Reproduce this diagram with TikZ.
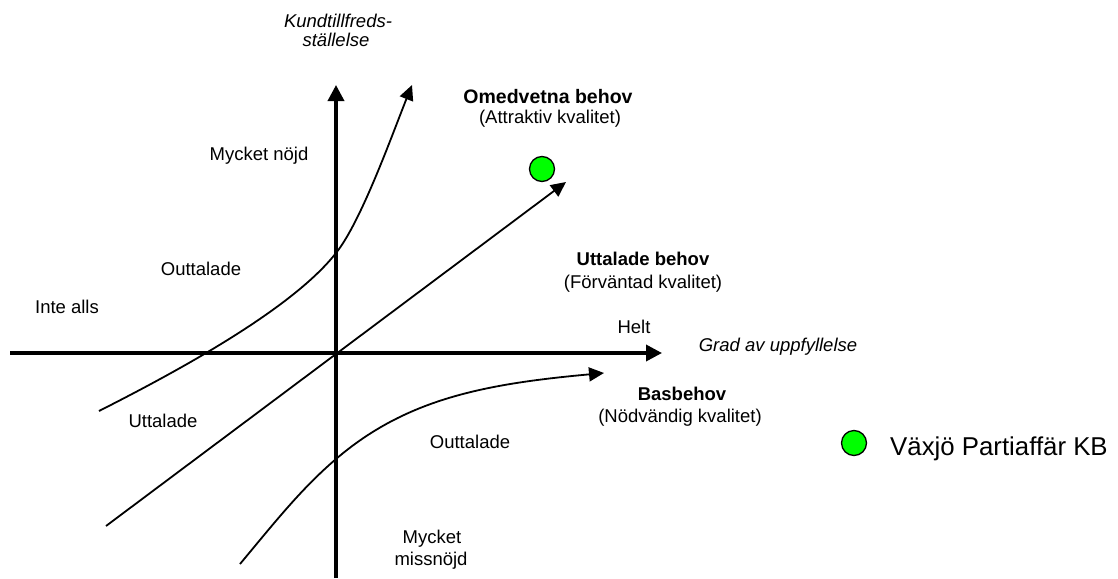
\documentclass[tikz,border=0pt]{standalone}
\usepackage{fontspec}
\setmainfont{Liberation Sans}
\usetikzlibrary{arrows.meta}
\definecolor{dotgreen}{RGB}{0,255,0}
\begin{document}
\begin{tikzpicture}[x=1pt,y=-1pt,
  axis/.style={line width=3.5pt,-{Triangle[length=16pt,width=16pt]}},
  curve/.style={line width=1.8pt,-{Triangle[length=15pt,width=14pt]}},
  lbl/.style={font=\fontsize{18.5}{18.5}\selectfont,inner sep=0pt,anchor=base},
  ilbl/.style={lbl,font=\fontsize{18.5}{18.5}\selectfont\itshape},
  blbl/.style={lbl,font=\fontsize{18.5}{18.5}\selectfont\bfseries},
  dot/.style={circle,draw=black,line width=1.3pt,fill=dotgreen,minimum size=25pt,inner sep=0pt}]
\useasboundingbox (0,0) rectangle (1118,578);

% axes
\coordinate (xs) at (10,353);
\coordinate (xe) at (662,353);
\coordinate (ys) at (336,578);
\coordinate (ye) at (336,85);
\draw[axis] (xs) -- (xe);
\draw[axis] (ys) -- (ye);

% expressed needs: straight line through the origin
\coordinate (d0) at (106,526);
\coordinate (d1) at (566,182);
\draw[curve] (d0) -- (d1);

% unspoken needs curve
\coordinate (u0) at (99,411);
\coordinate (um) at (336,253);
\coordinate (u1) at (412,85);
\draw[curve] (u0) .. controls (182,369) and (293,308) .. (um)
                  .. controls (361,222) and (392,135) .. (u1);

% basic needs curve
\coordinate (b0) at (240,564);
\coordinate (bm) at (336,459);
\coordinate (b1) at (604,373);
\draw[curve] (b0) .. controls (275,522) and (301,489) .. (bm)
                  .. controls (406,399) and (484,384) .. (b1);

% axis titles
\node[ilbl] (yt1) at (338,28) {Kundtillfreds-};
\node[ilbl] (yt2) at (336,47) {ställelse};
\node[ilbl] (xt) at (778,351) {Grad av uppfyllelse};

% curve labels
\node[blbl,font=\fontsize{19.5}{19.5}\selectfont\bfseries] (om1) at (548,103) {Omedvetna behov};
\node[lbl]  (om2) at (550,123) {(Attraktiv kvalitet)};
\node[blbl] (ut1) at (643,265) {Uttalade behov};
\node[lbl]  (ut2) at (643,288) {(Förväntad kvalitet)};
\node[blbl] (ba1) at (682,400) {Basbehov};
\node[lbl]  (ba2) at (680,422) {(Nödvändig kvalitet)};

% region labels
\node[lbl] (mn) at (259,160) {Mycket nöjd};
\node[lbl] (o1) at (201,275) {Outtalade};
\node[lbl] (ia) at (67,313) {Inte alls};
\node[lbl] (he) at (634,333) {Helt};
\node[lbl] (u1l) at (163,427) {Uttalade};
\node[lbl] (o2) at (470,448) {Outtalade};
\node[lbl] (mm1) at (432,543) {Mycket};
\node[lbl] (mm2) at (431,565) {missnöjd};

% company marker and legend
\node[dot] (firm) at (542,169) {};
\node[dot] (legdot) at (854,443) {};
\node[font=\fontsize{25.8}{25.8}\selectfont,inner sep=0pt,anchor=base west] (legtxt) at (890,455) {Växjö Partiaffär KB};
\end{tikzpicture}
\end{document}
